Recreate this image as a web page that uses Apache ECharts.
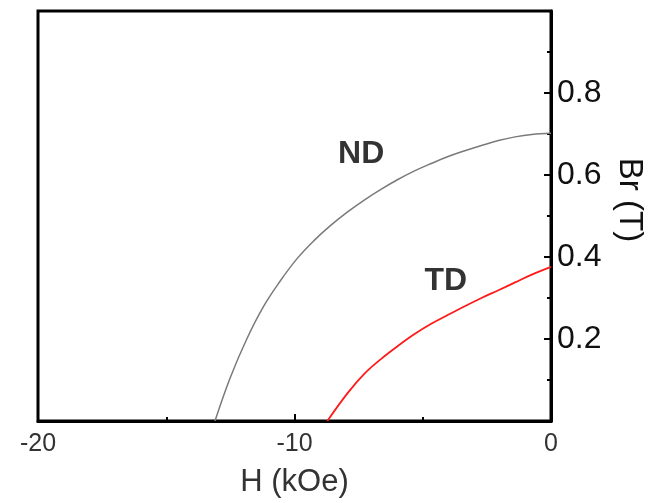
<!DOCTYPE html>
<html>
<head>
<meta charset="utf-8">
<script src="https://cdn.jsdelivr.net/npm/echarts@6/dist/echarts.min.js"></script>
<style>html,body{margin:0;padding:0;background:#fff;overflow:hidden;}#c{width:660px;height:503px;}</style>
</head>
<body>
<div id="c"></div>
<script>
var ndH = [-13.10, -12.51, -11.86, -11.20, -10.55, -9.90, -9.24, -8.59, -7.93, -7.28, -6.63, -5.97, -5.32, -4.67, -4.01, -3.36, -2.71, -2.05, -1.40, -0.75, 0];
var ndB = [0, 0.105, 0.200, 0.280, 0.342, 0.396, 0.440, 0.477, 0.510, 0.539, 0.565, 0.589, 0.610, 0.628, 0.645, 0.659, 0.672, 0.684, 0.693, 0.699, 0.702];
var tdH = [-8.72, -7.93, -7.28, -6.63, -5.97, -5.32, -4.67, -4.01, -3.36, -2.71, -2.05, -1.40, -0.75, 0];
var tdB = [0, 0.068, 0.115, 0.151, 0.183, 0.212, 0.237, 0.259, 0.280, 0.300, 0.319, 0.338, 0.357, 0.376];
var curveNames = ['ND', 'TD'];
var labelH = [-7.4, -4.1];
var labelB = [0.65, 0.34];
var xTicks = [-20, -10, 0];
var yTicks = [0.2, 0.4, 0.6, 0.8];

function pairs(a, b) { return a.map(function (v, i) { return [v, b[i]]; }); }

var chart = echarts.init(document.getElementById('c'));
var font = 'Liberation Sans, Arial, sans-serif';
chart.setOption({
  animation: false,
  grid: { left: 38, right: 109, top: 11, bottom: 76, show: true, borderColor: '#000', borderWidth: 3 },
  xAxis: {
    type: 'value', min: -20, max: 0, interval: 10,
    name: 'H (kOe)', nameLocation: 'middle', nameGap: 46,
    nameTextStyle: { fontFamily: font, fontSize: 31, color: '#333' },
    axisLine: { show: true, lineStyle: { color: '#000', width: 3 } },
    axisTick: { show: true, inside: true, length: 7, lineStyle: { color: '#000', width: 2 } },
    minorTick: { show: true, splitNumber: 2, length: 4, lineStyle: { color: '#000', width: 2 } },
    splitLine: { show: false },
    axisLabel: { fontFamily: font, fontSize: 25, color: '#333', margin: 11,
      formatter: function (v) { return xTicks.indexOf(v) >= 0 ? String(v) : ''; } }
  },
  yAxis: {
    type: 'value', position: 'right', min: 0, max: 1.0, interval: 0.2,
    name: 'Br (T)', nameLocation: 'middle', nameGap: 62, nameRotate: -90,
    nameTextStyle: { fontFamily: font, fontSize: 33, color: '#111', padding: [0, 32, 0, 0] },
    axisLine: { show: true, lineStyle: { color: '#000', width: 3 } },
    axisTick: { show: true, inside: true, length: 7, lineStyle: { color: '#000', width: 2 } },
    minorTick: { show: true, splitNumber: 2, length: 4, lineStyle: { color: '#000', width: 2 } },
    splitLine: { show: false },
    axisLabel: { fontFamily: font, fontSize: 32, color: '#111', margin: 6,
      formatter: function (v) {
        for (var i = 0; i < yTicks.length; i++) if (Math.abs(yTicks[i] - v) < 1e-6) return yTicks[i].toFixed(1);
        return '';
      } }
  },
  series: [
    { name: curveNames[0], type: 'line', smooth: 0.4, showSymbol: false, data: pairs(ndH, ndB),
      lineStyle: { color: '#7a7a7a', width: 1.5 }, itemStyle: { color: '#7a7a7a' } },
    { name: curveNames[1], type: 'line', smooth: 0.4, showSymbol: false, data: pairs(tdH, tdB),
      lineStyle: { color: '#ff1a1a', width: 1.8 }, itemStyle: { color: '#ff1a1a' } },
    { type: 'scatter', symbolSize: 0, silent: true,
      data: curveNames.map(function (n, i) { return { value: [labelH[i], labelB[i]], name: n }; }),
      label: { show: true, position: 'inside', formatter: '{b}', fontFamily: font, fontWeight: 'bold', fontSize: 32, color: '#000' } }
  ]
});
</script>
</body>
</html>
